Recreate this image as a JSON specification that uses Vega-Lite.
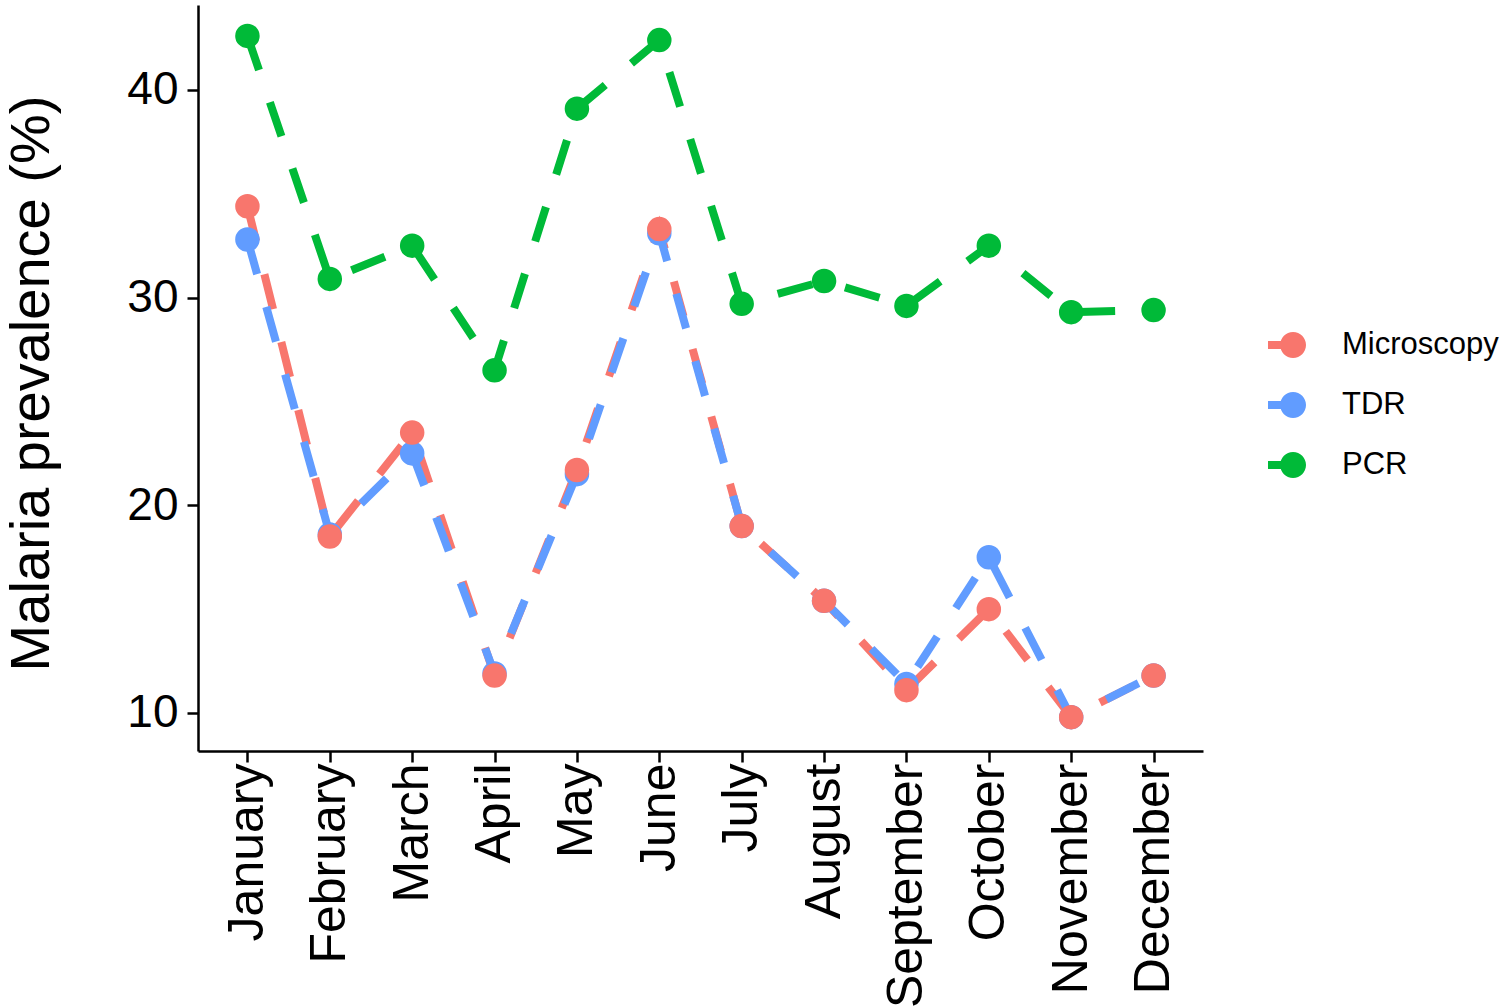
{
  "$schema": "https://vega.github.io/schema/vega-lite/v6.json",
  "autosize": "none",
  "width": 1005,
  "height": 746,
  "padding": {"left": 198, "top": 5, "right": 302, "bottom": 257},
  "background": "white",
  "config": {
    "view": {"stroke": null},
    "font": "Liberation Sans",
    "axis": {"grid": false, "domainColor": "black", "domainWidth": 2.5, "tickColor": "black", "tickWidth": 2.5, "tickSize": 11, "labelColor": "black", "titleColor": "black", "labelFont": "Liberation Sans", "titleFont": "Liberation Sans"}
  },
  "data": {
    "values": [
      {"month": "January", "method": "Microscopy", "value": 34.4},
      {"month": "February", "method": "Microscopy", "value": 18.5},
      {"month": "March", "method": "Microscopy", "value": 23.5},
      {"month": "April", "method": "Microscopy", "value": 11.8},
      {"month": "May", "method": "Microscopy", "value": 21.7},
      {"month": "June", "method": "Microscopy", "value": 33.3},
      {"month": "July", "method": "Microscopy", "value": 19.0},
      {"month": "August", "method": "Microscopy", "value": 15.4},
      {"month": "September", "method": "Microscopy", "value": 11.1},
      {"month": "October", "method": "Microscopy", "value": 15.0},
      {"month": "November", "method": "Microscopy", "value": 9.8},
      {"month": "December", "method": "Microscopy", "value": 11.8},
      {"month": "January", "method": "TDR", "value": 32.8},
      {"month": "February", "method": "TDR", "value": 18.6},
      {"month": "March", "method": "TDR", "value": 22.5},
      {"month": "April", "method": "TDR", "value": 11.9},
      {"month": "May", "method": "TDR", "value": 21.5},
      {"month": "June", "method": "TDR", "value": 33.1},
      {"month": "July", "method": "TDR", "value": 19.0},
      {"month": "August", "method": "TDR", "value": 15.4},
      {"month": "September", "method": "TDR", "value": 11.4},
      {"month": "October", "method": "TDR", "value": 17.5},
      {"month": "November", "method": "TDR", "value": 9.8},
      {"month": "December", "method": "TDR", "value": 11.8},
      {"month": "January", "method": "PCR", "value": 42.6},
      {"month": "February", "method": "PCR", "value": 30.9},
      {"month": "March", "method": "PCR", "value": 32.5},
      {"month": "April", "method": "PCR", "value": 26.5},
      {"month": "May", "method": "PCR", "value": 39.1},
      {"month": "June", "method": "PCR", "value": 42.4},
      {"month": "July", "method": "PCR", "value": 29.7},
      {"month": "August", "method": "PCR", "value": 30.8},
      {"month": "September", "method": "PCR", "value": 29.6},
      {"month": "October", "method": "PCR", "value": 32.5},
      {"month": "November", "method": "PCR", "value": 29.3},
      {"month": "December", "method": "PCR", "value": 29.4}
    ]
  },
  "encoding": {
    "x": {
      "field": "month", "type": "ordinal",
      "sort": ["January","February","March","April","May","June","July","August","September","October","November","December"],
      "scale": {"type": "point", "padding": 0.6},
      "axis": {"title": null, "labelAngle": -90, "labelAlign": "right", "labelBaseline": "middle", "labelFontSize": 50, "labelPadding": 1, "labelOverlap": false, "labelLimit": 0}
    },
    "y": {
      "field": "value", "type": "quantitative",
      "scale": {"domain": [8.17, 44.09], "nice": false, "zero": false},
      "axis": {"title": "Malaria prevalence (%)", "values": [10, 20, 30, 40], "labelFontSize": 46, "labelPadding": 9, "titleFontSize": 56, "titleFontWeight": "normal", "titleAngle": -90, "titleX": -167, "titleY": 378, "titleAlign": "center", "titleBaseline": "middle"}
    },
    "color": {
      "field": "method", "type": "nominal",
      "scale": {"domain": ["Microscopy", "TDR", "PCR"], "range": ["#F8766D", "#619CFF", "#00BA38"]},
      "legend": {
        "title": null,
        "orient": "none",
        "legendX": 1070,
        "legendY": 321,
        "padding": 0,
        "symbolType": "M -1 -0.21 L -0.3 -0.21 L -0.3 0.21 L -1 0.21 Z M 1 0 A 0.68 0.68 0 1 1 -0.36 0 A 0.68 0.68 0 1 1 1 0 Z",
        "symbolSize": 1444,
        "symbolStrokeWidth": 0,
        "symbolOpacity": 1,
        "labelFontSize": 31,
        "labelColor": "black",
        "labelFont": "Liberation Sans",
        "labelOffset": 36,
        "rowPadding": 26,
        "labelLimit": 400,
        "encode": {"symbols": {"update": {"fill": {"scale": "color", "field": "value"}, "stroke": {"value": "transparent"}, "strokeWidth": {"value": 0}, "opacity": {"value": 1}}}}
      }
    }
  },
  "layer": [
    {"transform": [{"filter": "datum.method === 'Microscopy'"}], "mark": {"type": "line", "strokeWidth": 8, "strokeDash": [36, 34], "strokeCap": "butt"}},
    {"transform": [{"filter": "datum.method === 'TDR'"}], "mark": {"type": "line", "strokeWidth": 8, "strokeDash": [36, 34], "strokeCap": "butt"}},
    {"transform": [{"filter": "datum.method === 'PCR'"}], "mark": {"type": "line", "strokeWidth": 8, "strokeDash": [36, 34], "strokeCap": "butt"}},
    {"mark": {"type": "point", "shape": "circle", "filled": true, "size": 600, "opacity": 1}, "encoding": {"order": {"field": "method", "sort": "descending"}}}
  ]
}
